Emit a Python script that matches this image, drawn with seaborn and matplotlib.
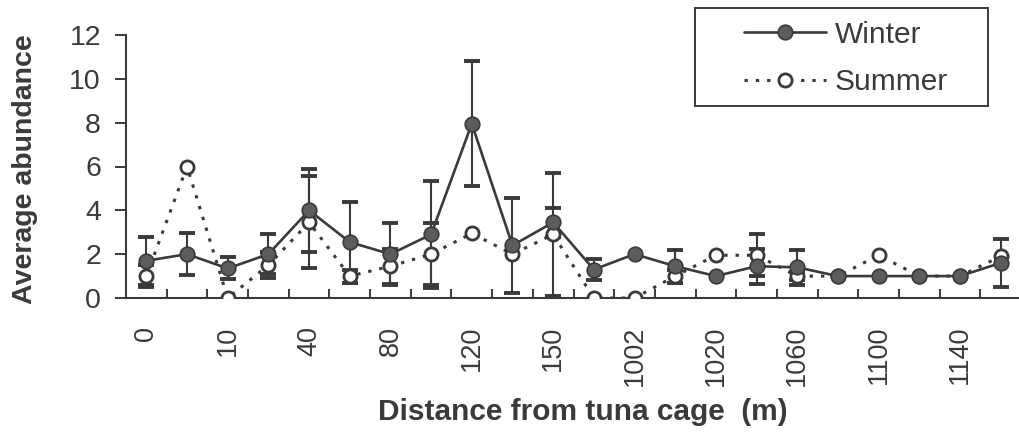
import numpy as np
import pandas as pd
import matplotlib
matplotlib.use("Agg")
import matplotlib.pyplot as plt
import seaborn as sns
from matplotlib.patches import Rectangle

# ---- data ----
distance = ['0', '5', '10', '20', '40', '60', '80', '100', '120', '140', '150',
            '1000', '1002', '1010', '1020', '1040', '1060', '1080', '1100', '1120',
            '1140', '1160']
shown_labels = ['0', '10', '40', '80', '120', '150', '1002', '1020', '1060', '1100', '1140']
winter = [1.7, 2.0, 1.35, 2.0, 4.0, 2.55, 2.0, 2.9, 7.95, 2.4, 3.45,
          1.3, 2.0, 1.45, 1.0, 1.45, 1.4, 1.0, 1.0, 1.0, 1.0, 1.6]
winter_err = [1.1, 0.95, 0.5, 0.9, 1.9, 1.85, 1.4, 2.45, 2.85, 2.15, 0.65,
              0.5, 0.0, 0.75, 0.0, 0.8, 0.8, 0.0, 0.0, 0.0, 0.0, 1.1]
summer = [1.0, 6.0, 0.0, 1.5, 3.45, 1.0, 1.45, 2.0, 2.95, 2.0, 2.9,
          0.0, 0.0, 1.0, 1.95, 1.95, 1.0, 1.0, 1.95, 1.0, 1.0, 1.9]
summer_err = [0.5, 0.0, 0.0, 0.6, 2.1, 0.3, 0.8, 1.4, 0.0, 0.0, 2.8,
              0.0, 0.0, 0.3, 0.0, 0.95, 0.2, 0.0, 0.0, 0.0, 0.0, 0.0]

sns.set_theme(style="white")
plt.rcParams['font.family'] = ['Liberation Sans', 'DejaVu Sans']

INK = '#3a3a3a'

df = pd.DataFrame({'pos': np.arange(len(distance)), 'distance': distance,
                   'Winter': winter, 'Summer': summer})

fig = plt.figure(figsize=(10.2, 4.45), dpi=100)
ax = fig.add_axes([126/1020, 147/445, 895/1020, 263/445])

# error bars
for vals, errs in ((winter, winter_err), (summer, summer_err)):
    v = np.array(vals); e = np.array(errs); m = e > 0
    ax.errorbar(df['pos'][m], v[m], yerr=e[m], fmt='none', ecolor=INK,
                elinewidth=1.5, capsize=6, capthick=2.8, zorder=2)

sns.lineplot(data=df, x='pos', y='Winter', ax=ax, color=INK, linewidth=1.9,
             marker='o', markersize=10.5, markerfacecolor='#5c5c5c',
             markeredgecolor=INK, markeredgewidth=1.2, label='Winter', zorder=4)
sns.lineplot(data=df, x='pos', y='Summer', ax=ax, color=INK, linewidth=2.2,
             linestyle=(0, (1.1, 2.6)), marker='o', markersize=9.5,
             markerfacecolor='white', markeredgecolor=INK, markeredgewidth=2.0,
             label='Summer', zorder=3)

ax.set_xlim(-0.5, len(distance) - 0.5)
ax.set_ylim(0, 12)
ax.set_yticks(np.arange(0, 13, 2))
ax.set_yticklabels([str(t) for t in range(0, 13, 2)])
ax.set_xticks(np.arange(0, len(distance), 2))
ax.set_xticklabels(shown_labels, rotation=90)
ax.set_xticks(np.arange(0.5, len(distance) - 0.5, 1.0), minor=True)

ax.tick_params(axis='x', which='major', length=0, pad=20, labelsize=19.5, labelcolor=INK)
ax.tick_params(axis='x', which='minor', direction='in', length=6.5, width=1.4,
               color=INK, bottom=True)
ax.tick_params(axis='y', which='major', direction='out', length=8, width=1.4,
               color=INK, pad=10, labelsize=20.5, labelcolor=INK, left=True)

for s in ('top', 'right'):
    ax.spines[s].set_visible(False)
for s in ('left', 'bottom'):
    ax.spines[s].set_color(INK)
    ax.spines[s].set_linewidth(1.5)

ax.set_xlabel('Distance from tuna cage  (m)', fontsize=21.5, fontweight='bold', color=INK)
ax.xaxis.set_label_coords((583 - 126) / 895, (298 - 398) / 263)
ax.set_ylabel('Average abundance', fontsize=20.5, fontweight='bold', color=INK)
ax.yaxis.set_label_coords((38 - 126) / 895, 0.49)

handles, labels = ax.get_legend_handles_labels()
leg = ax.legend(handles, labels, loc='upper left',
                bbox_to_anchor=(729 / 1020, 1 - 6 / 445),
                bbox_transform=fig.transFigure, frameon=False, fontsize=21.5,
                borderpad=0, handlelength=2.75, handletextpad=0.3,
                labelspacing=0.65, labelcolor=INK)
fig.patches.append(Rectangle((695 / 1020, 1 - 106 / 445), 293 / 1020, 98 / 445,
                             transform=fig.transFigure, fill=False,
                             edgecolor=INK, linewidth=1.4))

fig.savefig('out.png', dpi=100)
